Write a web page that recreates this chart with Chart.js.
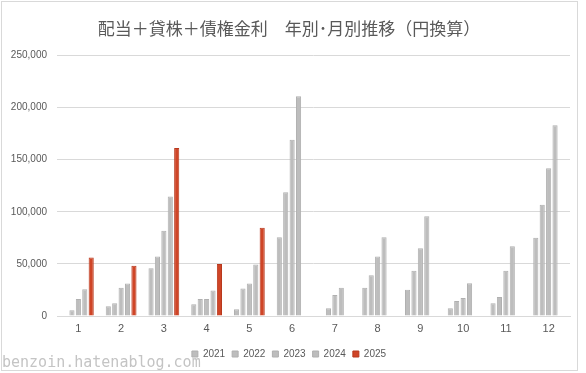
<!DOCTYPE html>
<html>
<head>
<meta charset="utf-8">
<script src="https://cdn.jsdelivr.net/npm/chart.js@4/dist/chart.umd.min.js"></script>
<style>
html,body{margin:0;padding:0;background:#fff;}
#wrap{position:relative;width:586px;height:373px;overflow:hidden;}
#frame{position:absolute;left:1px;top:1px;width:577px;height:370px;border:1px solid #d9d9d9;box-sizing:border-box;pointer-events:none;}
#wm{position:absolute;left:2px;top:353px;font-family:"DejaVu Sans Mono",monospace;font-size:15px;color:#c4c4c4;}
canvas{position:absolute;left:0;top:0;}
</style>
</head>
<body>
<div id="wrap">
<canvas id="c" width="586" height="373"></canvas>
<div id="frame"></div>
<div id="wm">benzoin.hatenablog.com</div>
</div>
<script>
const titleText = '配当＋貸株＋債権金利　年別･月別推移（円換算）';
const months = ['1','2','3','4','5','6','7','8','9','10','11','12'];
const years = ['2021','2022','2023','2024','2025'];
const v2021 = [null, 9300, 45800, 11200, 6400, 75600, null, 27200, 25300, 7400, 12200, 75000];
const v2022 = [5400, 12200, 57000, 16300, 26300, 118600, 7400, 39100, 43300, 14400, 18300, 106700];
const v2023 = [16300, 27200, 81700, 16300, 31100, 169200, 20200, 57000, 65100, 17300, 43300, 141700];
const v2024 = [25600, 31100, 114700, 24400, 49400, 210900, 27200, 75600, 95800, 31400, 67000, 183000];
const v2025 = [56100, 48100, 161200, 50000, 84600, null, null, null, null, null, null, null];
const yTicks = [0, 50000, 100000, 150000, 200000, 250000];

const gray = '#bdbdbd', grayB = '#b0b0b0', red = '#cf4527', redB = '#b8391e';
const series = [v2021, v2022, v2023, v2024, v2025];
const datasets = series.map((d, i) => ({
  label: years[i],
  data: d,
  backgroundColor: i === 4 ? red : gray,
  borderColor: i === 4 ? redB : grayB,
  borderWidth: 1,
  categoryPercentage: 0.75,
  barPercentage: 0.8
}));

new Chart(document.getElementById('c'), {
  type: 'bar',
  data: { labels: months, datasets },
  options: {
    responsive: false,
    devicePixelRatio: 1,
    animation: false,
    layout: { padding: { left: 8, right: 16, top: 0, bottom: 4 } },
    plugins: {
      title: {
        display: true, text: titleText, color: '#595959',
        font: { family: '"Noto Sans CJK JP", sans-serif', size: 17, weight: 'normal' },
        padding: { top: 18, bottom: 17 }
      },
      legend: {
        position: 'bottom',
        labels: {
          color: '#595959', boxWidth: 6, boxHeight: 6, padding: 7,
          font: { family: '"Liberation Sans", sans-serif', size: 10 }
        }
      },
      tooltip: { enabled: false }
    },
    scales: {
      x: {
        grid: { display: false, drawTicks: false },
        border: { color: '#d9d9d9' },
        afterFit: (s) => { s.height = 26; },
        ticks: { color: '#595959', font: { family: '"Liberation Sans", sans-serif', size: 11 }, padding: 6 }
      },
      y: {
        min: 0, max: 250000,
        afterBuildTicks: (s) => { s.ticks = yTicks.map(v => ({ value: v })); },
        afterFit: (s) => { s.width = 49; },
        grid: { color: '#d9d9d9', drawTicks: false },
        border: { display: false },
        ticks: {
          color: '#595959', padding: 10,
          font: { family: '"Liberation Sans", sans-serif', size: 10 },
          callback: (v) => v.toLocaleString('en-US')
        }
      }
    }
  }
});
</script>
</body>
</html>
